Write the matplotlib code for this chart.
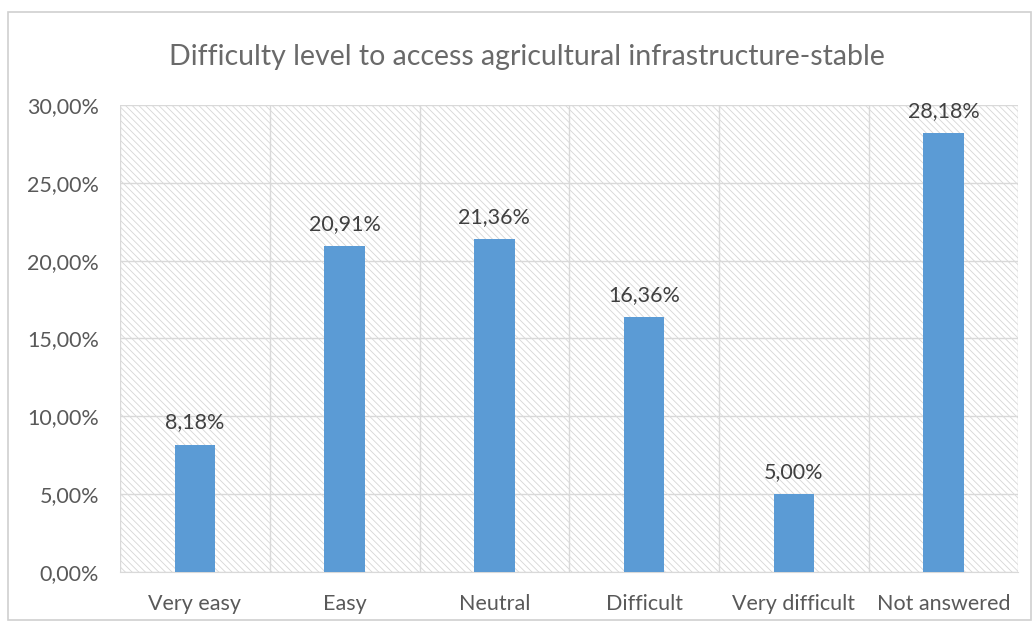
import numpy as np
import matplotlib.pyplot as plt
from matplotlib.patches import Rectangle
from matplotlib.ticker import FuncFormatter, MultipleLocator

categories = ['Very easy', 'Easy', 'Neutral', 'Difficult', 'Very difficult', 'Not answered']
values = [8.18, 20.91, 21.36, 16.36, 5.00, 28.18]
title = 'Difficulty level to access agricultural infrastructure-stable'

plt.rcParams['font.family'] = ['Lato', 'DejaVu Sans']
plt.rcParams['hatch.linewidth'] = 0.6
txt = '#595959'

fig = plt.figure(figsize=(10.35, 6.28), dpi=100)
fig.patches.append(Rectangle((0.008, 0.013), 0.988, 0.968, transform=fig.transFigure,
                             fill=False, edgecolor='#d0d0d0', linewidth=1.2))
ax = fig.add_axes([0.116, 0.089, 0.868, 0.744])

# hatched plot background
ax.add_patch(Rectangle((0, 0), 1, 1, transform=ax.transAxes, facecolor='white',
                       edgecolor='#d6d6d6', hatch='\\\\\\\\\\', linewidth=0, zorder=0))

x = np.arange(len(categories))
ax.bar(x, values, width=0.27, color='#5B9BD5', zorder=3)
for xi, v in zip(x, values):
    ax.text(xi, v + 0.8, ('%.2f%%' % v).replace('.', ','), ha='center', va='bottom',
            fontsize=15.5, color='#404040', zorder=4)

ax.set_xlim(-0.5, len(categories) - 0.5)
ax.set_ylim(0, 30)
ax.yaxis.set_major_locator(MultipleLocator(5))
ax.yaxis.set_major_formatter(FuncFormatter(lambda v, p: ('%.2f%%' % v).replace('.', ',')))
ax.set_xticks(x)
ax.set_xticklabels(categories)
ax.set_xticks(np.arange(-0.5, len(categories)), minor=True)
ax.grid(axis='y', which='major', color='#d9d9d9', linewidth=1, zorder=1)
ax.grid(axis='x', which='minor', color='#d9d9d9', linewidth=1, zorder=1)
ax.grid(axis='x', which='major', visible=False)
ax.tick_params(axis='both', which='both', length=0, labelsize=15.5, labelcolor=txt)
ax.tick_params(axis='x', pad=16)
ax.tick_params(axis='y', pad=15)
for s in ax.spines.values():
    s.set_visible(False)
ax.spines['bottom'].set_visible(True)
ax.spines['bottom'].set_color('#d9d9d9')

fig.text(0.509, 0.910, title, ha='center', va='center', fontsize=20.5, color='#6a6a6a')

fig.savefig('out.png', dpi=100)
